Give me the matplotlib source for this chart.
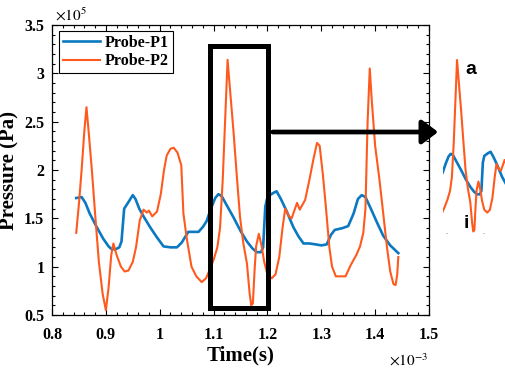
import matplotlib
matplotlib.use("Agg")
import matplotlib.pyplot as plt
from matplotlib.patches import Rectangle, FancyArrowPatch
from matplotlib.ticker import FixedLocator, AutoMinorLocator

plt.rcParams['mathtext.fontset'] = 'stix'

# ---- data (time in 1e-3 s, pressure in 1e5 Pa) ----
t_p1 = [0.845, 0.855, 0.862, 0.870, 0.883, 0.895, 0.905, 0.911, 0.918, 0.925, 0.929,
        0.934, 0.941, 0.950, 0.955, 0.962, 0.970, 0.982, 0.994, 1.007, 1.020, 1.032,
        1.041, 1.053, 1.063, 1.072, 1.080, 1.087, 1.095, 1.103, 1.109, 1.115, 1.125,
        1.137, 1.150, 1.162, 1.172, 1.180, 1.188, 1.192, 1.196, 1.200, 1.210, 1.217,
        1.225, 1.236, 1.248, 1.258, 1.267, 1.278, 1.290, 1.300, 1.310, 1.318, 1.325,
        1.340, 1.350, 1.360, 1.368, 1.375, 1.382, 1.392, 1.404, 1.415, 1.428, 1.443]
p_p1 = [1.71, 1.72, 1.66, 1.55, 1.41, 1.29, 1.21, 1.18, 1.18, 1.20, 1.26,
        1.60, 1.66, 1.74, 1.70, 1.60, 1.52, 1.41, 1.31, 1.21, 1.20, 1.20,
        1.25, 1.36, 1.36, 1.36, 1.41, 1.47, 1.60, 1.71, 1.75, 1.73, 1.63,
        1.51, 1.37, 1.26, 1.19, 1.15, 1.15, 1.20, 1.62, 1.72, 1.76, 1.78,
        1.70, 1.57, 1.41, 1.31, 1.24, 1.24, 1.23, 1.22, 1.23, 1.33, 1.38,
        1.40, 1.42, 1.55, 1.70, 1.74, 1.72, 1.60, 1.45, 1.32, 1.22, 1.14]

t_p2 = [0.845, 0.850, 0.855, 0.860, 0.864, 0.868, 0.874, 0.880, 0.887, 0.894, 0.900,
        0.905, 0.910, 0.914, 0.920, 0.928, 0.935, 0.942, 0.950, 0.956, 0.963, 0.970,
        0.976, 0.980, 0.986, 0.995, 1.002, 1.008, 1.013, 1.020, 1.026, 1.033, 1.040,
        1.044, 1.050, 1.059, 1.068, 1.078, 1.086, 1.093, 1.100, 1.107, 1.112, 1.117,
        1.121, 1.126, 1.131, 1.137, 1.143, 1.149, 1.155, 1.162, 1.167, 1.170, 1.173,
        1.176, 1.179, 1.184, 1.189, 1.194, 1.200, 1.208, 1.215, 1.222, 1.228, 1.233,
        1.240, 1.245, 1.255, 1.260, 1.270, 1.278, 1.285, 1.292, 1.297, 1.303, 1.308,
        1.315, 1.320, 1.327, 1.337, 1.345, 1.355, 1.365, 1.372, 1.378, 1.382, 1.386,
        1.390, 1.394, 1.400, 1.408, 1.415, 1.422, 1.428, 1.434, 1.438, 1.441, 1.443]
p_p2 = [1.35, 1.65, 2.00, 2.40, 2.65, 2.40, 2.00, 1.55, 1.05, 0.72, 0.55,
        0.78, 1.12, 1.24, 1.12, 1.00, 0.95, 0.96, 1.05, 1.20, 1.48, 1.59,
        1.56, 1.58, 1.52, 1.57, 1.75, 2.00, 2.15, 2.22, 2.23, 2.18, 2.05,
        1.55, 1.30, 1.00, 0.90, 0.84, 0.88, 0.97, 1.07, 1.20, 1.40, 1.90,
        2.45, 3.14, 2.80, 2.40, 1.95, 1.52, 1.25, 1.03, 0.72, 0.60, 0.62,
        0.95, 1.21, 1.34, 1.22, 1.05, 0.92, 0.88, 0.92, 1.10, 1.40, 1.60,
        1.52, 1.50, 1.66, 1.59, 1.69, 1.90, 2.10, 2.28, 2.25, 1.95, 1.65,
        1.20, 1.00, 0.90, 0.90, 0.90, 1.02, 1.12, 1.21, 1.35, 1.60, 2.50,
        3.05, 2.70, 2.25, 1.90, 1.55, 1.20, 0.95, 0.82, 0.81, 0.92, 1.10]

x_ticks = [0.8, 0.9, 1.0, 1.1, 1.2, 1.3, 1.4, 1.5]
x_ticklabels = ['0.8', '0.9', '1', '1.1', '1.2', '1.3', '1.4', '1.5']
y_ticks = [0.5, 1.0, 1.5, 2.0, 2.5, 3.0, 3.5]
y_ticklabels = ['0.5', '1', '1.5', '2', '2.5', '3', '3.5']
series_labels = ['Probe-P1', 'Probe-P2']

# zoom box region (data units)
box_t = [1.093, 1.201]
box_p = [0.57, 3.28]

c_blue = '#0B78C2'
c_orange = '#FF5A1E'

W, H = 505, 369
fig = plt.figure(figsize=(W / 100, H / 100), dpi=100)

def px_axes(l, t, r, b):
    return fig.add_axes([l / W, 1 - b / H, (r - l) / W, (b - t) / H])

ax = px_axes(52, 25, 429, 315)
serif = 'Liberation Serif'

ax.plot(t_p1, p_p1, color=c_blue, lw=1.9, label=series_labels[0])
ax.plot(t_p2, p_p2, color=c_orange, lw=1.5, label=series_labels[1])
ax.set_xlim(0.8, 1.5)
ax.set_ylim(0.5, 3.5)
ax.xaxis.set_major_locator(FixedLocator(x_ticks))
ax.yaxis.set_major_locator(FixedLocator(y_ticks))
ax.set_xticklabels(x_ticklabels, fontfamily=serif, fontweight='bold', fontsize=11.5)
ax.set_yticklabels(y_ticklabels, fontfamily=serif, fontweight='bold', fontsize=11.5)
ax.xaxis.set_minor_locator(AutoMinorLocator(5))
ax.yaxis.set_minor_locator(AutoMinorLocator(5))
ax.tick_params(which='both', direction='in', top=True, right=True, width=0.8)
ax.tick_params(which='major', length=4)
ax.tick_params(which='minor', length=2.2)
ax.tick_params(axis='x', which='major', pad=8.5)
ax.tick_params(axis='y', which='major', pad=5.5)
for s in ax.spines.values():
    s.set_linewidth(0.9)

ax.set_xlabel('Time(s)', fontfamily=serif, fontweight='bold', fontsize=15, labelpad=2)
ax.set_ylabel('Pressure (Pa)', fontfamily=serif, fontweight='bold', fontsize=15, labelpad=3)

leg = ax.legend(loc='upper left', bbox_to_anchor=(0.0186, 0.979), borderaxespad=0,
                prop={'family': serif, 'weight': 'bold', 'size': 11.5},
                handlelength=2.3, handletextpad=0.3, labelspacing=0.15,
                borderpad=0.25, fancybox=False, framealpha=1, edgecolor='black')
leg.get_frame().set_linewidth(0.8)

fig.text(55 / W, 1 - 15 / H, r'$\times10^{5}$', fontsize=11, ha='left', va='center')
fig.text(428 / W, 1 - 360 / H, r'$\times10^{-3}$', fontsize=11, ha='right', va='center')

# zoom rectangle
ax.add_patch(Rectangle((box_t[0], box_p[0]), box_t[1] - box_t[0], box_p[1] - box_p[0],
                       fill=False, edgecolor='black', lw=3.6, clip_on=False, zorder=5))

# arrow
arr = FancyArrowPatch((1.210, 2.393), (1.517, 2.393), arrowstyle='-|>,head_length=0.6,head_width=0.45',
                      mutation_scale=16, lw=3.4, color='black', clip_on=False,
                      transform=ax.transData, zorder=5, shrinkA=0, shrinkB=0)
ax.add_artist(arr)

# inset (zoomed view), partly cut by the figure edge
ins = px_axes(443, 49.2, 505, 238.2)
ins.plot(t_p1, p_p1, color=c_blue, lw=1.9)
ins.plot(t_p2, p_p2, color=c_orange, lw=1.5)
ins.set_xlim(1.088, 1.256)
ins.set_ylim(0.5, 3.3)
ins.axis('off')
fig.text(465 / W, 1 - 69 / H, 'a', family='Liberation Sans', weight='bold', fontsize=14,
         ha='left', va='center')
fig.text(466 / W, 1 - 224 / H, 'i', family='Liberation Sans', weight='bold', fontsize=14,
         ha='center', va='center')
fig.text(446 / W, 1 - 232 / H, '.', fontsize=5, color='#555555', ha='center', va='center')
fig.text(483 / W, 1 - 232 / H, '.', fontsize=5, color='#555555', ha='center', va='center')

fig.savefig('out.png', dpi=100)
